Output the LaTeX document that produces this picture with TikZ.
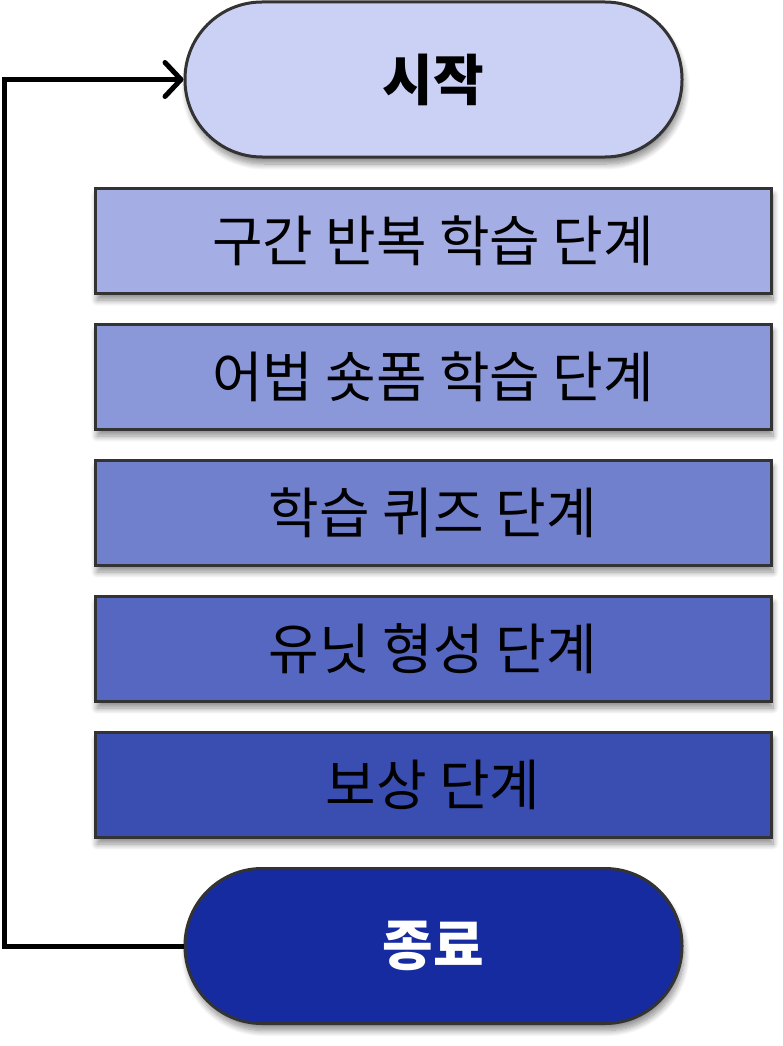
\documentclass[tikz,border=0pt]{standalone}
\usepackage{fontspec}
\setmainfont{Noto Sans CJK KR}
\usetikzlibrary{arrows.meta,shadows.blur}
\definecolor{cstart}{HTML}{CBD0F5}
\definecolor{cb1}{HTML}{A4AEE5}
\definecolor{cb2}{HTML}{8A97D9}
\definecolor{cb3}{HTML}{7180CD}
\definecolor{cb4}{HTML}{5567C1}
\definecolor{cb5}{HTML}{3A4EB2}
\definecolor{cend}{HTML}{172BA1}
\definecolor{edge}{HTML}{333333}
\tikzset{
  shade/.style={blur shadow={shadow xshift=2pt,shadow yshift=-7pt,shadow blur steps=10,shadow blur radius=6pt,shadow opacity=45}},
  term/.style={shade,draw=edge,line width=3pt,rounded corners=77pt,minimum width=497pt,minimum height=155pt,inner sep=0pt,font=\fontsize{55}{60}\selectfont\bfseries},
  stagebox/.style={shade,draw=edge,line width=3pt,minimum width=676pt,minimum height=105pt,inner sep=0pt,font=\fontsize{55}{60}\selectfont},
  loop/.style={line width=5pt,black}
}
\begin{document}
\begin{tikzpicture}[x=1pt,y=-1pt]
\useasboundingbox (0,0) rectangle (783,1046);
\node[term,fill=cstart] (start) at (433.5,79.5) {시작};
\node[stagebox,fill=cb1] (s1) at (433,240.5) {구간 반복 학습 단계};
\node[stagebox,fill=cb2] (s2) at (433,376.5) {어법 숏폼 학습 단계};
\node[stagebox,fill=cb3] (s3) at (433,512.5) {학습 퀴즈 단계};
\node[stagebox,fill=cb4] (s4) at (433,648.5) {유닛 형성 단계};
\node[stagebox,fill=cb5] (s5) at (433,784.5) {보상 단계};
\node[term,fill=cend,text=white] (end) at (433.5,946) {종료};
\draw[loop,-{Straight Barb[length=16pt,width=34pt,line cap=round,line join=round]}] (end.west) -| (4,79.5) -- (start.west);
\end{tikzpicture}
\end{document}
